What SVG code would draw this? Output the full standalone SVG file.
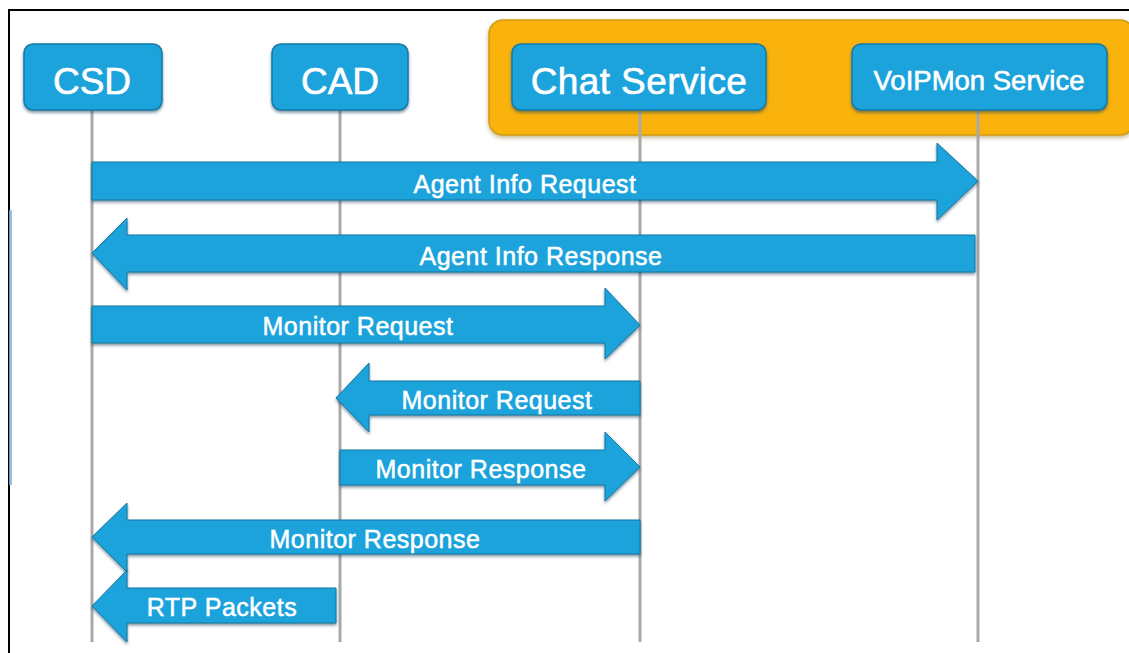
<svg xmlns="http://www.w3.org/2000/svg" width="1129" height="653" viewBox="0 0 1129 653">
<defs>
<filter id="sh" x="-5%" y="-20%" width="110%" height="150%">
<feDropShadow dx="0" dy="2" stdDeviation="1.5" flood-color="#0b3f5a" flood-opacity="0.55"/>
</filter>
<filter id="sho" x="-5%" y="-20%" width="110%" height="150%">
<feDropShadow dx="0" dy="2" stdDeviation="2" flood-color="#7a5a00" flood-opacity="0.45"/>
</filter>
</defs>
<style>
.node{fill:#1ca3dc;stroke:#1579a8;stroke-width:1.5;filter:url(#sh)}
.life{stroke:#a9a9a9;stroke-width:3;fill:none}
.arr{fill:#1ca3dc;stroke:#14779f;stroke-width:1;filter:url(#sh)}
.nt{font-family:"Liberation Sans",Arial,sans-serif;fill:#fff;stroke:#fff;stroke-width:0.6;text-anchor:middle}
.lt{font-family:"Liberation Sans",Arial,sans-serif;fill:#fff;stroke:#fff;stroke-width:0.5;font-size:25px;text-anchor:middle;letter-spacing:0.5px}
</style>
<rect width="1129" height="653" fill="#fff"/>
<path d="M9 653 V10 H1129" fill="none" stroke="#000" stroke-width="2"/>
<rect x="9" y="210" width="3" height="275" fill="#7fb2dc" opacity="0.8"/>
<g id="group-services">
<rect x="489" y="20" width="645" height="115" rx="14" fill="#fab20c" stroke="#d49b12" stroke-width="1.5" filter="url(#sho)"/>
</g>
<g id="lifelines">
<line class="life" x1="92" y1="108" x2="92" y2="642"/>
<line class="life" x1="340" y1="108" x2="340" y2="642"/>
<line class="life" x1="640" y1="108" x2="640" y2="642"/>
<line class="life" x1="978" y1="108" x2="978" y2="642"/>
</g>
<g id="node-csd">
<rect class="node" x="24" y="44" width="138" height="66" rx="9"/>
<text class="nt" x="92" y="94" font-size="37">CSD</text>
</g>
<g id="node-cad">
<rect class="node" x="272" y="44" width="136" height="66" rx="9"/>
<text class="nt" x="340" y="94" font-size="37">CAD</text>
</g>
<g id="node-chat">
<rect class="node" x="512" y="44" width="254" height="66" rx="9"/>
<text class="nt" x="639" y="94" font-size="37" letter-spacing="0.4">Chat Service</text>
</g>
<g id="node-voipmon">
<rect class="node" x="852" y="44" width="255" height="66" rx="9"/>
<text class="nt" x="979" y="90" font-size="27.5">VoIPMon Service</text>
</g>
<g id="connectors">
<path class="arr" d="M92 162 H937 V143 L978 181 L937 220 V200 H92 Z"/>
<path class="arr" d="M975 235 V272 H127 V290 L92 253 L127 218 V235 Z"/>
<path class="arr" d="M92 306 H605 V288 L640 325 L605 359 V343 H92 Z"/>
<path class="arr" d="M640 381 V415 H369 V432 L336 398 L369 363 V381 Z"/>
<path class="arr" d="M340 450 H605 V432 L640 467 L605 501 V485 H340 Z"/>
<path class="arr" d="M640 520 V554 H127 V572 L92 537 L127 503 V520 Z"/>
<path class="arr" d="M336 588 V623 H127 V642 L92 606 L127 570 V588 Z"/>
</g>
<g id="labels">
<text class="lt" x="525" y="193">Agent Info Request</text>
<text class="lt" x="541" y="265">Agent Info Response</text>
<text class="lt" x="358" y="335">Monitor Request</text>
<text class="lt" x="497" y="409">Monitor Request</text>
<text class="lt" x="481" y="478">Monitor Response</text>
<text class="lt" x="375" y="548">Monitor Response</text>
<text class="lt" x="222" y="616">RTP Packets</text>
</g>
</svg>
